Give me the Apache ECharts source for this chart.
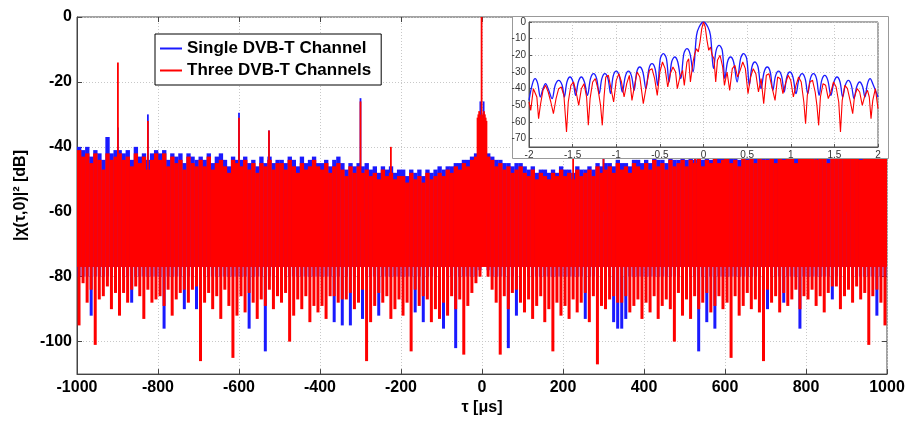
<!DOCTYPE html>
<html>

<head>
    <meta charset="utf-8">
    <title>Ambiguity function</title>
    <script src="https://cdn.jsdelivr.net/npm/echarts@6.0.0/dist/echarts.min.js"></script>
    <style>
        * {
            padding: 0px;
            margin: 0px;
        }
        body {
            background: #fff;
        }
    </style>
</head>

<body>
    <div id="main" style="width: 909px;height:421px;"></div>
    <script type="text/javascript">
        // bins of 10 us from -1000 to 1000, top / bottom of the noise floor in dB
        var binStart = -1000;
        var binStep = 10;

        var redTop = [
            -41, -43, -42, -45, -42, -44, -47, -42, -44, -43,
            -42, -44, -43, -46, -42, -45, -43, -47, -44, -42,
            -44, -42, -46, -43, -45, -44, -47, -43, -45, -46,
            -44, -46, -43, -47, -45, -44, -46, -48, -44, -45,
            -46, -44, -47, -45, -48, -45, -46, -44, -47, -45,
            -45, -47, -44, -46, -48, -45, -47, -46, -44, -46,
            -47, -45, -48, -46, -45, -47, -49, -46, -48, -46,
            -48, -47, -49, -48, -50, -47, -49, -48, -50, -49,
            -49, -51, -48, -50, -49, -51, -48, -50, -49, -48,
            -49, -47, -48, -46, -47, -45, -46, -44, -43, -42,
            -42, -43, -44, -46, -45, -47, -46, -48, -47, -46,
            -48, -49, -47, -50, -48, -49, -50, -48, -49, -47,
            -49, -48, -50, -47, -49, -48, -47, -49, -46, -48,
            -47, -46, -48, -45, -47, -46, -48, -45, -46, -47,
            -45, -47, -44, -46, -45, -47, -44, -46, -45, -44,
            -46, -44, -45, -43, -46, -44, -45, -43, -45, -44,
            -43, -45, -44, -46, -43, -44, -42, -45, -43, -44,
            -44, -42, -45, -43, -44, -42, -43, -45, -42, -43,
            -43, -41, -44, -42, -43, -45, -42, -41, -43, -42,
            -42, -43, -41, -44, -42, -40, -43, -41, -42, -41
        ];
        var blueTop = [
            -40, -41, -40, -43, -41, -42, -44, -37, -42, -41,
            -41, -42, -41, -44, -40, -43, -42, -44, -42, -41,
            -42, -41, -44, -42, -43, -42, -45, -42, -43, -44,
            -43, -44, -42, -45, -43, -42, -44, -46, -43, -44,
            -44, -43, -45, -44, -46, -43, -45, -43, -45, -44,
            -44, -45, -43, -44, -46, -43, -45, -44, -43, -45,
            -45, -44, -46, -44, -43, -45, -47, -45, -46, -45,
            -46, -45, -47, -46, -48, -46, -47, -46, -48, -47,
            -47, -49, -47, -48, -47, -49, -47, -48, -47, -46,
            -47, -46, -46, -45, -45, -44, -44, -43, -42, -41,
            -41, -42, -43, -44, -44, -45, -45, -46, -45, -45,
            -46, -47, -46, -48, -47, -47, -48, -47, -48, -46,
            -47, -47, -48, -46, -47, -47, -46, -47, -45, -46,
            -45, -45, -46, -44, -45, -45, -46, -44, -44, -45,
            -44, -45, -43, -44, -44, -45, -43, -44, -44, -43,
            -44, -43, -44, -42, -44, -43, -44, -42, -43, -43,
            -42, -43, -43, -44, -42, -43, -41, -43, -42, -43,
            -42, -41, -43, -42, -42, -41, -42, -43, -41, -42,
            -42, -40, -42, -41, -42, -43, -41, -40, -42, -41,
            -41, -42, -40, -42, -41, -39, -42, -40, -41, -40
        ];
        var redLow = [
            -95, -82, -88, -84, -101, -87, -86, -83, -90, -85,
            -92, -85, -88, -84, -83, -86, -93, -84, -88, -87,
            -86, -89, -84, -92, -87, -85, -84, -88, -84, -83,
            -106, -88, -85, -90, -86, -93, -84, -89, -105, -92,
            -86, -91, -85, -88, -93, -87, -89, -84, -90, -86,
            -88, -85, -100, -92, -87, -90, -86, -94, -89, -91,
            -89, -93, -86, -86, -88, -87, -87, -85, -90, -88,
            -84, -106, -94, -89, -85, -88, -86, -93, -90, -87,
            -92, -88, -103, -84, -89, -86, -87, -94, -90, -93,
            -88, -92, -86, -90, -87, -104, -89, -85, -82, -80,
            -77, -80, -84, -88, -104, -86, -90, -85, -84, -88,
            -91, -87, -93, -89, -86, -94, -90, -103, -88, -92,
            -89, -93, -87, -91, -88, -85, -94, -86, -107, -89,
            -90, -87, -86, -88, -88, -86, -91, -89, -87, -93,
            -88, -91, -86, -93, -89, -87, -90, -100, -85, -92,
            -87, -93, -86, -90, -88, -85, -91, -89, -86, -90,
            -88, -105, -86, -92, -89, -85, -90, -87, -91, -106,
            -84, -88, -86, -91, -85, -89, -87, -84, -90, -86,
            -87, -84, -89, -86, -91, -85, -83, -83, -90, -86,
            -84, -88, -83, -87, -85, -101, -86, -84, -88, -95
        ];
        var blueLow = [
            -80, -80, -80, -92, -80, -80, -80, -80, -80, -80,
            -80, -80, -80, -88, -80, -80, -80, -80, -80, -80,
            -80, -96, -80, -80, -80, -80, -90, -80, -80, -90,
            -80, -80, -80, -80, -80, -80, -80, -80, -80, -80,
            -80, -80, -96, -80, -80, -80, -103, -80, -80, -80,
            -80, -80, -80, -80, -80, -80, -80, -80, -80, -80,
            -80, -80, -80, -94, -80, -95, -80, -95, -80, -80,
            -93, -80, -80, -80, -92, -80, -80, -80, -80, -80,
            -80, -80, -80, -91, -80, -94, -80, -80, -80, -80,
            -96, -80, -80, -102, -80, -80, -80, -80, -80, -78,
            -76, -78, -80, -80, -80, -80, -102, -80, -92, -80,
            -80, -80, -80, -80, -80, -80, -80, -80, -80, -80,
            -80, -80, -80, -80, -80, -93, -80, -80, -80, -80,
            -80, -80, -94, -96, -96, -93, -80, -80, -80, -80,
            -80, -80, -80, -80, -80, -80, -80, -80, -80, -80,
            -80, -80, -80, -103, -80, -94, -80, -96, -80, -80,
            -80, -80, -80, -80, -80, -80, -80, -80, -80, -80,
            -90, -80, -80, -80, -88, -80, -80, -80, -96, -80,
            -80, -80, -80, -80, -80, -80, -87, -80, -80, -80,
            -80, -80, -80, -80, -80, -80, -80, -92, -80, -80
        ];

        // isolated peaks rising out of the floor: [tau us, dB]
        var redSpikes = [
            [-899, -14], [-825, -32], [-600, -31], [-526, -35], [-300, -26], [-225, -40],
            [-11, -31], [-9, -30], [-7, -29], [-5, -30], [-3, -31], [-1, 0], [1, -30],
            [3, -31], [5, -29], [7, -30], [9, -31], [11, -32],
            [225, -40], [300, -26], [526, -35], [600, -31], [825, -32], [899, -14]
        ];
        var blueSpikes = [
            [-899, -34], [-825, -30], [-600, -29.5], [-526, -35], [-300, -25],
            [-4, -26], [4, -26],
            [300, -25], [526, -35], [600, -29.5], [825, -30], [899, -34]
        ];

        // inset: zoom on |tau| < 2 us
        var insetBlue = [
            [-2.00, -47], [-1.96, -37], [-1.93, -34], [-1.90, -37], [-1.87, -45],
            [-1.84, -40], [-1.81, -37], [-1.78, -40], [-1.735, -46],
            [-1.70, -38], [-1.66, -35], [-1.62, -38], [-1.595, -45],
            [-1.565, -36], [-1.53, -33], [-1.495, -36], [-1.465, -44],
            [-1.435, -36], [-1.40, -33], [-1.365, -36], [-1.33, -44],
            [-1.295, -34], [-1.26, -31], [-1.225, -34], [-1.195, -43],
            [-1.165, -34], [-1.13, -31], [-1.095, -34], [-1.065, -43],
            [-1.035, -32.5], [-1.00, -29.5], [-0.965, -32.5], [-0.93, -42],
            [-0.895, -32.5], [-0.86, -29.5], [-0.825, -32.5], [-0.795, -41],
            [-0.765, -30], [-0.73, -27], [-0.695, -30], [-0.66, -40],
            [-0.625, -28], [-0.59, -25], [-0.555, -28], [-0.525, -38],
            [-0.495, -22], [-0.46, -19], [-0.425, -22], [-0.395, -36],
            [-0.365, -24], [-0.33, -21], [-0.295, -24], [-0.26, -34],
            [-0.225, -19], [-0.19, -16], [-0.155, -19], [-0.12, -30],
            [-0.08, -8], [-0.05, -3], [0, 0], [0.05, -3], [0.08, -8], [0.115, -28],
            [0.145, -17], [0.18, -14], [0.215, -17], [0.245, -34],
            [0.275, -24], [0.31, -21], [0.345, -24], [0.385, -36],
            [0.425, -22], [0.46, -19], [0.495, -22], [0.525, -38],
            [0.555, -27], [0.59, -24], [0.625, -27], [0.66, -40],
            [0.695, -30], [0.73, -27], [0.765, -30], [0.795, -41],
            [0.825, -32.5], [0.86, -29.5], [0.895, -32.5], [0.925, -42],
            [0.955, -33], [0.99, -30], [1.025, -33], [1.06, -43],
            [1.095, -34], [1.13, -31], [1.165, -34], [1.195, -43],
            [1.225, -34], [1.26, -31], [1.295, -34], [1.325, -44],
            [1.355, -35], [1.39, -32], [1.425, -35], [1.46, -44],
            [1.495, -36], [1.53, -33], [1.565, -36], [1.595, -45],
            [1.625, -38], [1.66, -35], [1.695, -38], [1.725, -46],
            [1.755, -39], [1.79, -36], [1.825, -39], [1.85, -45],
            [1.88, -37], [1.91, -34], [1.94, -37], [2.00, -45]
        ];
        var insetRed = [
            [-2.00, -48], [-1.98, -53], [-1.95, -40], [-1.93, -39], [-1.91, -45], [-1.89, -58],
            [-1.87, -50], [-1.84, -41], [-1.81, -38], [-1.78, -42], [-1.75, -48], [-1.72, -55],
            [-1.69, -46], [-1.66, -40], [-1.63, -39], [-1.60, -44], [-1.57, -66], [-1.55, -48],
            [-1.52, -38], [-1.49, -36], [-1.46, -42], [-1.43, -50], [-1.40, -40], [-1.37, -37],
            [-1.34, -45], [-1.32, -62], [-1.30, -46], [-1.27, -36], [-1.24, -34], [-1.21, -40],
            [-1.18, -50], [-1.16, -62], [-1.14, -45], [-1.12, -33], [-1.09, -32], [-1.06, -40],
            [-1.03, -48], [-1.00, -35], [-0.97, -31], [-0.94, -36], [-0.91, -45], [-0.88, -37],
            [-0.85, -32], [-0.82, -47], [-0.79, -38], [-0.76, -30], [-0.73, -33], [-0.69, -49],
            [-0.66, -40], [-0.62, -29], [-0.59, -28], [-0.56, -34], [-0.53, -44], [-0.50, -30],
            [-0.47, -24], [-0.44, -28], [-0.41, -39], [-0.38, -31], [-0.35, -27], [-0.32, -30],
            [-0.30, -40], [-0.27, -33], [-0.24, -29], [-0.22, -38], [-0.19, -24], [-0.17, -22],
            [-0.15, -36], [-0.12, -24], [-0.10, -19], [-0.08, -16], [-0.06, -18], [-0.04, -12],
            [-0.02, -4], [0, 0], [0.02, -3], [0.04, -11], [0.06, -17], [0.08, -15], [0.10, -20],
            [0.12, -22], [0.14, -36], [0.16, -23], [0.19, -20], [0.22, -27], [0.24, -38],
            [0.27, -30], [0.30, -41], [0.33, -28], [0.36, -26], [0.39, -33], [0.42, -29],
            [0.45, -24], [0.48, -28], [0.51, -43], [0.54, -33], [0.57, -28], [0.60, -31],
            [0.63, -42], [0.66, -34], [0.69, -49], [0.72, -32], [0.75, -31], [0.78, -38],
            [0.82, -47], [0.85, -33], [0.88, -34], [0.91, -43], [0.94, -37], [0.97, -32],
            [1.00, -35], [1.03, -45], [1.06, -38], [1.09, -33], [1.12, -36], [1.15, -48],
            [1.17, -61], [1.19, -44], [1.22, -36], [1.25, -35], [1.28, -42], [1.30, -50],
            [1.32, -62], [1.34, -45], [1.37, -37], [1.40, -38], [1.43, -46], [1.46, -42],
            [1.49, -36], [1.52, -39], [1.55, -48], [1.57, -66], [1.59, -47], [1.62, -38],
            [1.65, -40], [1.68, -47], [1.71, -55], [1.73, -45], [1.76, -40], [1.79, -42],
            [1.82, -50], [1.85, -44], [1.88, -41], [1.90, -45], [1.92, -58], [1.94, -47],
            [1.97, -40], [2.00, -52]
        ];

        var mainYTicks = [-100, -80, -60, -40, -20, 0];
        var insetYTicks = [-70, -60, -50, -40, -30, -20, -10, 0];

        var BLUE = '#1a1aff';
        var RED = '#ff0000';
        var FONT = 'Arial, "Liberation Sans", sans-serif';
        var coreFloor = -77;

        function binData(top, low) {
            var out = [];
            for (var i = 0; i < top.length; i++) {
                out.push([binStart + i * binStep + binStep / 2, top[i], low[i]]);
            }
            return out;
        }

        function renderBins(color) {
            return function(params, api) {
                var c = api.value(0);
                var low = api.value(2);
                var floor = Math.max(low, coreFloor);
                var p0 = api.coord([c - binStep / 2, api.value(1)]);
                var p1 = api.coord([c + binStep / 2, floor]);
                var pl = api.coord([c, low]);
                var pf = api.coord([c, floor]);
                return {
                    type: 'group',
                    children: [{
                        type: 'rect',
                        shape: { x: p0[0], y: p0[1], width: p1[0] - p0[0] + 0.3, height: p1[1] - p0[1] },
                        style: { fill: color }
                    }, {
                        type: 'line',
                        shape: { x1: pl[0], y1: pl[1], x2: pf[0], y2: pf[1] },
                        style: { stroke: color, lineWidth: 3 }
                    }]
                };
            };
        }

        function renderSpikes(color) {
            return function(params, api) {
                var a = api.coord([api.value(0), -60]);
                var b = api.coord([api.value(0), api.value(1)]);
                return {
                    type: 'line',
                    shape: { x1: a[0], y1: a[1], x2: b[0], y2: b[1] },
                    style: { stroke: color, lineWidth: 1.8 }
                };
            };
        }

        var myChart = echarts.init(document.getElementById('main'));

        var tickLabel = { color: '#000', fontFamily: FONT, fontWeight: 'bold', fontSize: 16 };
        var smallLabel = { color: '#333', fontFamily: FONT, fontSize: 10 };
        var dotted = { lineStyle: { color: '#c8c8c8', type: [1, 2] } };
        var frameTick = { show: true, inside: true, length: 5, lineStyle: { color: '#444' } };

        var option = {
            animation: false,
            backgroundColor: '#fff',
            legend: {
                orient: 'vertical',
                left: 155,
                top: 34,
                itemWidth: 22,
                itemHeight: 2,
                itemGap: 5,
                padding: [6, 10, 6, 5],
                backgroundColor: '#fff',
                borderColor: '#000',
                borderWidth: 1,
                borderRadius: 0,
                z: 10,
                textStyle: { color: '#000', fontFamily: FONT, fontWeight: 'bold', fontSize: 17 },
                data: [
                    { name: 'Single DVB-T Channel', icon: 'rect', itemStyle: { color: BLUE } },
                    { name: 'Three DVB-T Channels', icon: 'rect', itemStyle: { color: RED } }
                ]
            },
            graphic: [{
                type: 'rect',
                left: 512,
                top: 16,
                zlevel: 1,
                z: 0,
                shape: { width: 376, height: 142 },
                style: { fill: '#fff', stroke: '#999', lineWidth: 1 }
            }],
            grid: [{
                left: 77, right: 22, top: 17, bottom: 40,
                show: true, borderColor: '#444', borderWidth: 1
            }, {
                left: 529, right: 31, top: 22, bottom: 274,
                show: true, borderColor: '#555', borderWidth: 1,
                backgroundColor: '#fff', zlevel: 1, z: 1
            }],
            xAxis: [{
                type: 'value', gridIndex: 0, position: 'bottom',
                min: -1000, max: 1000, interval: 200,
                name: 'τ [μs]', nameLocation: 'middle', nameGap: 22,
                nameTextStyle: { color: '#000', fontFamily: FONT, fontWeight: 'bold', fontSize: 16 },
                axisLine: { onZero: false, lineStyle: { color: '#444' } },
                axisTick: frameTick,
                axisLabel: Object.assign({
                    margin: 5,
                    formatter: function(v) { return String(v); }
                }, tickLabel),
                splitLine: dotted
            }, {
                type: 'value', gridIndex: 1, position: 'bottom',
                min: -2, max: 2, interval: 0.5,
                zlevel: 1, z: 2,
                axisLine: { onZero: false, lineStyle: { color: '#555' } },
                axisTick: { inside: true, length: 3, lineStyle: { color: '#555' } },
                axisLabel: Object.assign({ margin: 3 }, smallLabel),
                splitLine: dotted
            }, {
                type: 'value', gridIndex: 0, position: 'top',
                min: -1000, max: 1000, interval: 200,
                axisLine: { show: false, onZero: false },
                axisTick: frameTick,
                axisLabel: { show: false },
                splitLine: { show: false }
            }],
            yAxis: [{
                type: 'value', gridIndex: 0, position: 'left',
                min: -110, max: 0,
                name: '|χ(τ,0)|² [dB]', nameLocation: 'middle', nameGap: 46, nameRotate: 90,
                nameTextStyle: { color: '#000', fontFamily: FONT, fontWeight: 'bold', fontSize: 16 },
                axisLine: { show: true, onZero: false, lineStyle: { color: '#444' } },
                axisTick: Object.assign({ customValues: mainYTicks }, frameTick),
                axisLabel: Object.assign({ margin: 5, customValues: mainYTicks }, tickLabel),
                splitLine: dotted
            }, {
                type: 'value', gridIndex: 1, position: 'left',
                min: -75, max: 0,
                zlevel: 1, z: 2,
                axisLine: { show: true, onZero: false, lineStyle: { color: '#555' } },
                axisTick: { show: true, inside: true, length: 3, customValues: insetYTicks, lineStyle: { color: '#555' } },
                axisLabel: Object.assign({ margin: 3, customValues: insetYTicks }, smallLabel),
                splitLine: dotted
            }, {
                type: 'value', gridIndex: 0, position: 'right',
                min: -110, max: 0,
                axisLine: { show: false, onZero: false },
                axisTick: Object.assign({ customValues: mainYTicks }, frameTick),
                axisLabel: { show: false, customValues: mainYTicks },
                splitLine: { show: false }
            }],
            series: [{
                name: 'Single DVB-T Channel',
                type: 'custom',
                xAxisIndex: 0, yAxisIndex: 0,
                clip: true,
                itemStyle: { color: BLUE },
                renderItem: renderBins(BLUE),
                data: binData(blueTop, blueLow),
                z: 2
            }, {
                name: 'Single DVB-T Channel',
                type: 'custom',
                xAxisIndex: 0, yAxisIndex: 0,
                clip: true,
                itemStyle: { color: BLUE },
                renderItem: renderSpikes(BLUE),
                data: blueSpikes,
                z: 3
            }, {
                name: 'Three DVB-T Channels',
                type: 'custom',
                xAxisIndex: 0, yAxisIndex: 0,
                clip: true,
                itemStyle: { color: RED },
                renderItem: renderBins(RED),
                data: binData(redTop, redLow),
                z: 4
            }, {
                name: 'Three DVB-T Channels',
                type: 'custom',
                xAxisIndex: 0, yAxisIndex: 0,
                clip: true,
                itemStyle: { color: RED },
                renderItem: renderSpikes(RED),
                data: redSpikes,
                z: 5
            }, {
                name: 'Single DVB-T Channel',
                type: 'line',
                xAxisIndex: 1, yAxisIndex: 1,
                zlevel: 1, z: 3,
                showSymbol: false,
                smooth: 0.35,
                lineStyle: { color: BLUE, width: 1.3 },
                itemStyle: { color: BLUE },
                data: insetBlue
            }, {
                name: 'Three DVB-T Channels',
                type: 'line',
                xAxisIndex: 1, yAxisIndex: 1,
                zlevel: 1, z: 4,
                showSymbol: false,
                lineStyle: { color: RED, width: 1.1 },
                itemStyle: { color: RED },
                data: insetRed
            }]
        };

        myChart.setOption(option);
    </script>
</body>

</html>
